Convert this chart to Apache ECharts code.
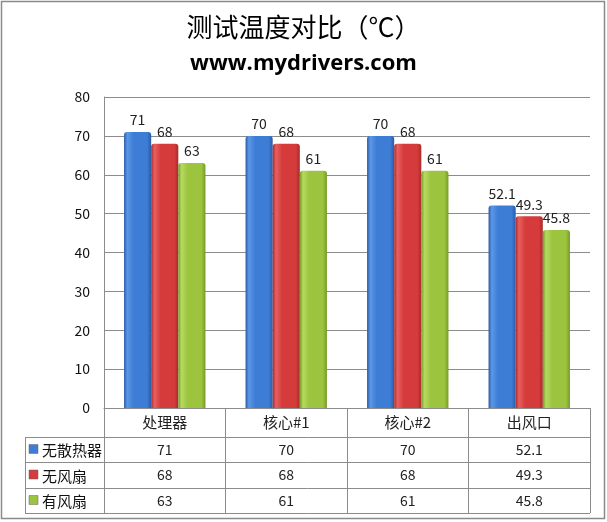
<!DOCTYPE html>
<html><head><meta charset="utf-8">
<script src="https://cdn.jsdelivr.net/npm/echarts@6/dist/echarts.min.js"></script>
<style>html,body{margin:0;padding:0;background:#fff}#c{width:607px;height:522px}</style>
</head><body><div id="c"></div>
<script>
var categories = ['处理器', '核心#1', '核心#2', '出风口'];
var seriesNames = ['无散热器', '无风扇', '有风扇'];
var s1 = [71, 70, 70, 52.1];
var s2 = [68, 68, 68, 49.3];
var s3 = [63, 61, 61, 45.8];
var yTicks = [0, 10, 20, 30, 40, 50, 60, 70, 80];
var titleText = '测试温度对比（℃）';
var subText = 'www.mydrivers.com';

var W = 607, H = 522;
var G = {left: 104, right: 17, top: 97, bottom: 114};
var axisY = H - G.bottom;            // 408
var rowTops = [437, 462, 488];
var tableBottom = 513;
var tableLeft = 25;
var lineColor = '#8c8c8c';
var font = '"Noto Sans CJK SC", "Open Sans", sans-serif';

function grad(dark, mid, light) {
  return new echarts.graphic.LinearGradient(0, 0, 1, 0, [
    {offset: 0, color: dark}, {offset: 0.12, color: light}, {offset: 0.35, color: mid},
    {offset: 0.85, color: mid}, {offset: 1, color: dark}
  ]);
}
var colors = [
  grad('#2a5aa6', '#3e7dd6', '#5b98e6'),
  grad('#a82b2b', '#d63b3b', '#e86060'),
  grad('#789a28', '#9cc43e', '#b6da60')
];
var solid = ['#3e7dd6', '#d63b3b', '#9cc43e'];
var data = [s1, s2, s3];

var chart = echarts.init(document.getElementById('c'), null, {renderer: 'canvas'});

var xAxes = [{
  type: 'category', data: categories, gridIndex: 0, position: 'bottom',
  axisLine: {show: true, lineStyle: {color: lineColor, width: 1}},
  axisTick: {show: true, length: tableBottom - axisY, lineStyle: {color: lineColor}},
  axisLabel: {fontSize: 15, color: '#222', margin: 7, fontFamily: font}
}];
data.forEach(function (arr, i) {
  xAxes.push({
    type: 'category', data: arr.map(String), gridIndex: 0, position: 'bottom',
    offset: rowTops[i] - axisY,
    axisLine: {show: false}, axisTick: {show: false},
    axisLabel: {fontSize: 14, color: '#222', margin: 6, fontFamily: font}
  });
});

var graphics = [];
function hline(x1, x2, y) {
  graphics.push({type: 'line', shape: {x1: x1, y1: y + 0.5, x2: x2, y2: y + 0.5}, style: {stroke: lineColor, lineWidth: 1}, silent: true});
}
function vline(x, y1, y2) {
  graphics.push({type: 'line', shape: {x1: x + 0.5, y1: y1, x2: x + 0.5, y2: y2}, style: {stroke: lineColor, lineWidth: 1}, silent: true});
}
rowTops.concat([tableBottom]).forEach(function (y) { hline(tableLeft, W - G.right, y); });
vline(tableLeft, rowTops[0], tableBottom + 1);
// outer frame
graphics.push({type: 'rect', shape: {x: 1.5, y: 1.5, width: W - 4, height: H - 5}, style: {fill: null, stroke: '#8a8a8a', lineWidth: 1.5}, silent: true});
seriesNames.forEach(function (n, i) {
  var top = rowTops[i], bot = (i < 2 ? rowTops[i + 1] : tableBottom);
  var cy = (top + bot) / 2;
  graphics.push({type: 'rect', shape: {x: tableLeft + 4, y: cy - 5, width: 9, height: 9},
    style: {fill: solid[i], stroke: '#666', lineWidth: 0.5}, silent: true});
  graphics.push({type: 'text', x: tableLeft + 17, y: cy + 1,
    style: {text: n, fontSize: 15, fill: '#111', fontFamily: font, verticalAlign: 'middle', align: 'left'}, silent: true});
});

chart.setOption({
  animation: false,
  backgroundColor: '#fff',
  title: [
    {text: titleText, left: 'center', top: 9, textStyle: {fontSize: 26, fontWeight: 'normal', color: '#000', fontFamily: font}},
    {text: subText, left: 'center', top: 48, textStyle: {fontSize: 22, fontWeight: 'bold', color: '#000', fontFamily: '"Open Sans", "Liberation Sans", sans-serif'}}
  ],
  grid: {left: G.left, right: G.right, top: G.top, bottom: G.bottom, containLabel: false},
  xAxis: xAxes,
  yAxis: {
    type: 'value', min: 0, max: 80, interval: 10,
    axisLine: {show: true, lineStyle: {color: lineColor}},
    axisTick: {show: false},
    splitLine: {show: true, lineStyle: {color: lineColor, width: 1}},
    axisLabel: {fontSize: 14, color: '#111', margin: 14, fontFamily: font,
      formatter: function (v) { return yTicks.indexOf(v) >= 0 ? String(v) : ''; }}
  },
  series: data.map(function (arr, i) {
    return {
      name: seriesNames[i], type: 'bar', data: arr, xAxisIndex: 0,
      barGap: '0%', barCategoryGap: '33%',
      itemStyle: {color: colors[i], borderRadius: [3, 3, 0, 0]},
      label: {show: true, position: 'top', distance: 5, fontSize: 14, color: '#222', fontFamily: font}
    };
  }),
  graphic: graphics
});
</script>
</body></html>
